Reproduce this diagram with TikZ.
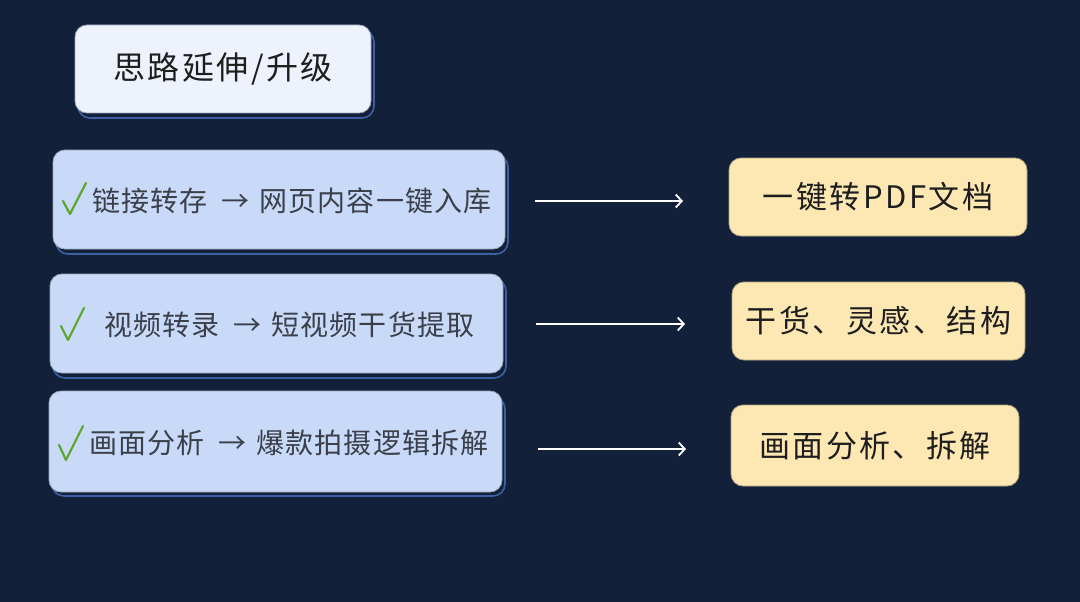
\documentclass[tikz,border=0pt]{standalone}
\usepackage{fontspec}
\setmainfont{Noto Sans CJK SC}
\newfontfamily\rowfont[LetterSpace=4]{Noto Sans CJK SC}
\newfontfamily\bigfont[LetterSpace=8]{Noto Sans CJK SC}
\usetikzlibrary{arrows.meta}
\definecolor{bg}{HTML}{12203A}
\definecolor{titlefill}{HTML}{EEF2FC}
\definecolor{rowfill}{HTML}{C9DAF8}
\definecolor{resfill}{HTML}{FDE8B4}
\definecolor{shadowline}{HTML}{3E5FA3}
\definecolor{edge}{HTML}{9AA6BC}
\definecolor{txt}{HTML}{3A3F4A}
\definecolor{txtdark}{HTML}{1E1E1E}
\definecolor{checkgreen}{HTML}{5DA52E}
\tikzset{
  box/.style={rounded corners=12pt, draw=edge, line width=0.8pt, inner sep=0pt},
  shadowbox/.style={rounded corners=12pt, draw=shadowline, line width=1.6pt, fill=bg},
  titlebox/.style={box, fill=titlefill, minimum width=296pt, minimum height=88pt, font=\bigfont\fontsize{32}{36}\selectfont, text=txtdark},
  rowbox/.style={box, fill=rowfill, minimum width=452pt, minimum height=99pt},
  resbox/.style={box, fill=resfill, draw=resfill!70!black, minimum height=78pt, font=\bigfont\fontsize{31}{35}\selectfont, text=txtdark},
  rowtext/.style={font=\rowfont\fontsize{28}{32}\selectfont, text=txt, anchor=west, inner sep=0pt},
  arr/.style={draw=white, line width=1.8pt, -{Straight Barb[length=6pt,width=13pt,line width=1.8pt]}},
  tick/.style={draw=checkgreen, line width=2.2pt, line cap=round, line join=round}
}
\newcommand{\arrsep}{\hspace{14pt}→\hspace{10pt}}
\begin{document}
\begin{tikzpicture}[x=1pt,y=-1pt]
\fill[bg] (0,0) rectangle (1080,602);
\useasboundingbox (0,0) rectangle (1080,602);

% title
\draw[shadowbox] (78,30) rectangle (374,118);
\node[titlebox] (title) at (223,69) {思路延伸/升级};

% row boxes
\draw[shadowbox] (56,155) rectangle (508,254);
\node[rowbox] (b1) at (279,199.5) {};
\draw[shadowbox] (53,279) rectangle (506,378);
\node[rowbox, minimum width=453pt] (b2) at (276.5,323.5) {};
\draw[shadowbox] (52,397) rectangle (505,496);
\node[rowbox, minimum width=453pt, minimum height=101pt] (b3) at (275.5,441.5) {};

% ticks
\draw[tick] (63,201) -- (70,214) -- (86,183);
\draw[tick] (61,326) -- (68,340) -- (84,308);
\draw[tick] (59,445) -- (66,460) -- (83,426);

% row texts
\node[rowtext] (t1) at (92,201) {链接转存\arrsep 网页内容一键入库};
\node[rowtext] (t2) at (104,325) {视频转录\arrsep 短视频干货提取};
\node[rowtext] (t3) at (89,443) {画面分析\arrsep 爆款拍摄逻辑拆解};

% result boxes
\node[resbox, minimum width=298pt] (r1) at (878,197) {一键转PDF文档};
\node[resbox, minimum width=293pt] (r2) at (878.5,321) {干货、灵感、结构};
\node[resbox, minimum width=288pt, minimum height=81pt] (r3) at (875,445.5) {画面分析、拆解};

% arrows
\coordinate (a1s) at (535,201); \coordinate (a1e) at (683,201);
\coordinate (a2s) at (536,324); \coordinate (a2e) at (685,324);
\coordinate (a3s) at (538,449); \coordinate (a3e) at (686,449);
\draw[arr] (a1s) -- (a1e);
\draw[arr] (a2s) -- (a2e);
\draw[arr] (a3s) -- (a3e);
\end{tikzpicture}
\end{document}
